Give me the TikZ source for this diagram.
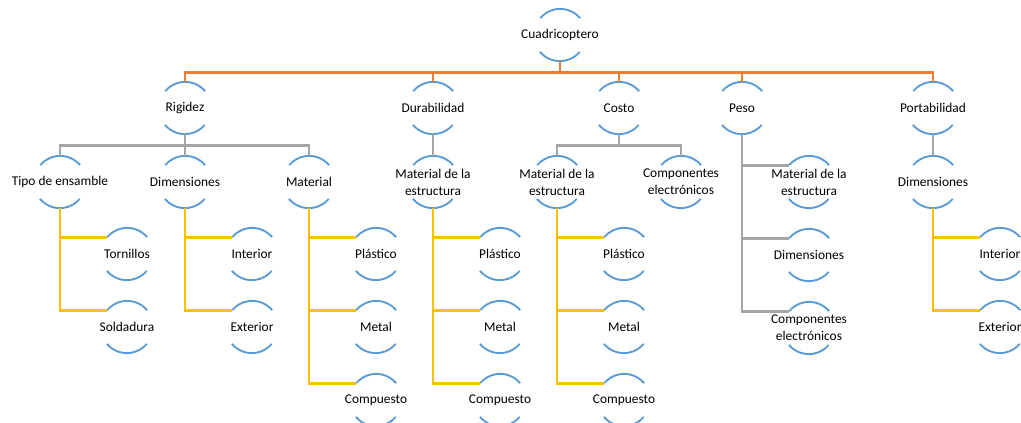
\documentclass[tikz,border=0pt]{standalone}
\usepackage{fontspec}
\setmainfont{Carlito}
\definecolor{ringblue}{HTML}{5B9BD5}
\definecolor{lvlorange}{HTML}{ED7D31}
\definecolor{lvlgray}{HTML}{A5A5A5}
\definecolor{lvlyellow}{HTML}{FFC000}
\tikzset{
  ring/.style={circle, minimum size=52pt, inner sep=0pt,
    label={[lbltext]center:#1}},
  lbltext/.style={align=center, inner sep=0pt, text=black,
    font=\fontsize{13.4}{17}\selectfont},
  arcline/.style={draw=ringblue, line width=1.9pt},
  toplink/.style={draw=lvlorange, line width=2.8pt},
  midlink/.style={draw=lvlgray, line width=2.8pt},
  lowlink/.style={draw=lvlyellow, line width=2.8pt},
}
\begin{document}
\begin{tikzpicture}[x=1pt, y=1pt]
\useasboundingbox (0,0) rectangle (1021,-423);
\clip (0,0) rectangle (1021,-423);

% top node and first level
\node[ring=Cuadricoptero] (root) at (560,-35) {};
\node[ring=Rigidez]       (rig)  at (185,-108) {};
\node[ring=Durabilidad]   (dur)  at (433,-108) {};
\node[ring=Costo]         (cos)  at (619,-108) {};
\node[ring=Peso]          (pes)  at (742,-108) {};
\node[ring=Portabilidad]  (por)  at (933,-108) {};

% second level
\node[ring={Tipo de ensamble}]            (tip)   at (60,-182) {};
\node[ring=Dimensiones]                   (rdim)  at (185,-182) {};
\node[ring=Material]                      (rmat)  at (309,-182) {};
\node[ring={Material de la\\estructura}]  (dmat)  at (433,-182) {};
\node[ring={Material de la\\estructura}]  (cmat)  at (557,-182) {};
\node[ring={Componentes\\electrónicos}]   (ccomp) at (681,-182) {};
\node[ring={Material de la\\estructura}]  (pmat)  at (809,-182) {};
\node[ring=Dimensiones]                   (pdim)  at (809,-255) {};
\node[ring={Componentes\\electrónicos}]   (pcomp) at (809,-328) {};
\node[ring=Dimensiones]                   (qdim)  at (933,-182) {};

% third level
\node[ring=Tornillos]  (tor)  at (127,-254) {};
\node[ring=Soldadura]  (sol)  at (127,-327) {};
\node[ring=Interior]   (rint) at (252,-254) {};
\node[ring=Exterior]   (rext) at (252,-327) {};
\node[ring=Plástico]   (rpla) at (376,-254) {};
\node[ring=Metal]      (rmet) at (376,-327) {};
\node[ring=Compuesto]  (rcom) at (376,-400) {};
\node[ring=Plástico]   (dpla) at (500,-254) {};
\node[ring=Metal]      (dmet) at (500,-327) {};
\node[ring=Compuesto]  (dcom) at (500,-400) {};
\node[ring=Plástico]   (cpla) at (624,-254) {};
\node[ring=Metal]      (cmet) at (624,-327) {};
\node[ring=Compuesto]  (ccom) at (624,-400) {};
\node[ring=Interior]   (qint) at (1000,-254) {};
\node[ring=Exterior]   (qext) at (1000,-327) {};

% open rings: an arc above and an arc below each label
\foreach \n in {root,rig,dur,cos,pes,por,tip,rdim,rmat,dmat,cmat,ccomp,
                pmat,pdim,pcomp,qdim,tor,sol,rint,rext,rpla,rmet,rcom,
                dpla,dmet,dcom,cpla,cmet,ccom,qint,qext} {
  \path[arcline] (\n.40) arc[start angle=40, end angle=140, radius=26pt];
  \path[arcline] (\n.220) arc[start angle=220, end angle=320, radius=26pt];
}

% first-level connectors
\foreach \c in {rig,dur,cos,pes,por}
  \path[toplink] (root.south) -- ++(0,-11) -| (\c.north);

% second-level connectors
\foreach \c in {tip,rdim,rmat}
  \path[midlink] (rig.south) -- ++(0,-11) -| (\c.north);
\path[midlink] (dur.south) -- (dmat.north);
\foreach \c in {cmat,ccomp}
  \path[midlink] (cos.south) -- ++(0,-11) -| (\c.north);
\foreach \c in {pmat,pdim,pcomp}
  \path[midlink] (pes.south) |- (\c.140);
\path[midlink] (por.south) -- (qdim.north);

% third-level connectors
\foreach \c in {tor,sol}
  \path[lowlink] (tip.south) |- (\c.140);
\foreach \c in {rint,rext}
  \path[lowlink] (rdim.south) |- (\c.140);
\foreach \c in {rpla,rmet,rcom}
  \path[lowlink] (rmat.south) |- (\c.140);
\foreach \c in {dpla,dmet,dcom}
  \path[lowlink] (dmat.south) |- (\c.140);
\foreach \c in {cpla,cmet,ccom}
  \path[lowlink] (cmat.south) |- (\c.140);
\foreach \c in {qint,qext}
  \path[lowlink] (qdim.south) |- (\c.140);
\end{tikzpicture}
\end{document}
